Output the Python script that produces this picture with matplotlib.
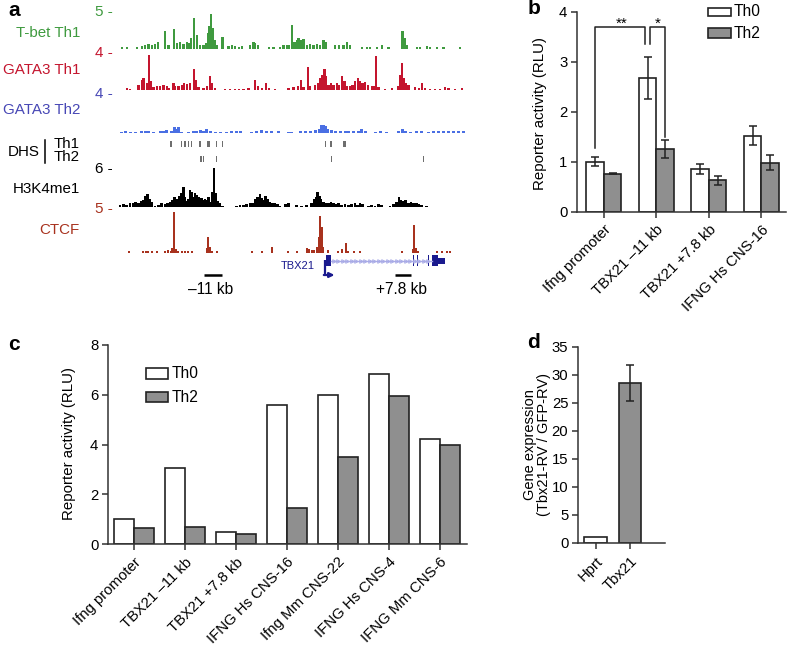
import matplotlib
matplotlib.use("Agg")
import matplotlib.pyplot as plt
from matplotlib.patches import Rectangle
import numpy as np

plt.rcParams['font.family'] = ['Liberation Sans', 'DejaVu Sans']
plt.rcParams['font.size'] = 11

# ---------------- data ----------------
# panel a: genomic tracks (kb relative to TBX21 TSS, signal relative to track max)
TBET_PEAKS = [(-20.33, 0.04), (-19.83, 0.04), (-18.83, 0.04), (-18.33, 0.08), (-18.0, 0.12), (-17.67, 0.14),
              (-17.33, 0.12), (-17.0, 0.14), (-16.73, 0.2), (-16.0, 0.52), (-15.67, 0.1), (-15.1, 0.58),
              (-14.83, 0.15), (-14.5, 0.18), (-14.17, 0.14), (-13.83, 0.2), (-13.6, 0.15), (-13.4, 0.3),
              (-13.1, 0.88), (-12.83, 0.4), (-12.5, 0.12), (-12.17, 0.1), (-11.93, 0.15), (-11.73, 0.45),
              (-11.57, 0.65), (-11.4, 1.0), (-11.23, 0.6), (-11.07, 0.25), (-10.83, 0.1), (-10.27, 0.33),
              (-9.67, 0.08), (-9.33, 0.1), (-9.0, 0.08), (-8.6, 0.06), (-8.33, 0.08), (-7.5, 0.1),
              (-7.17, 0.2), (-7.0, 0.16), (-6.73, 0.1), (-5.6, 0.04), (-5.17, 0.04), (-4.5, 0.06),
              (-4.17, 0.1), (-3.83, 0.12), (-3.6, 0.1), (-3.33, 0.67), (-3.07, 0.2), (-2.83, 0.26),
              (-2.67, 0.3), (-2.43, 0.26), (-2.17, 0.28), (-1.83, 0.12), (-1.5, 0.14), (-1.17, 0.12),
              (-0.83, 0.14), (-0.5, 0.12), (-0.17, 0.24), (0.07, 0.18), (1.0, 0.1), (1.4, 0.12),
              (1.83, 0.1), (2.17, 0.2), (2.5, 0.1), (3.67, 0.04), (4.17, 0.04), (4.5, 0.05),
              (5.17, 0.05), (5.67, 0.1), (6.33, 0.05), (7.73, 0.52), (7.93, 0.3), (8.17, 0.12),
              (9.17, 0.06), (9.5, 0.06), (10.17, 0.08), (10.5, 0.05), (11.17, 0.04), (11.83, 0.06),
              (13.5, 0.04)]

GATA3_TH1_PEAKS = [(-19.83, 0.05), (-19.5, 0.03), (-18.67, 0.14), (-18.33, 0.29), (-18.17, 0.33), (-17.83, 0.19),
                   (-17.6, 1.0), (-17.4, 0.24), (-17.17, 0.07), (-16.83, 0.1), (-16.5, 0.12), (-16.17, 0.14),
                   (-15.83, 0.1), (-15.67, 0.05), (-15.17, 0.19), (-15.0, 0.1), (-14.67, 0.1), (-14.33, 0.14),
                   (-14.1, 0.19), (-13.83, 0.16), (-13.5, 0.19), (-13.1, 0.59), (-12.93, 0.29), (-12.67, 0.07),
                   (-12.17, 0.05), (-11.83, 0.1), (-11.5, 0.4), (-11.33, 0.19), (-11.0, 0.05), (-10.0, 0.03),
                   (-9.5, 0.03), (-9.0, 0.03), (-8.6, 0.03), (-8.17, 0.03), (-7.67, 0.04), (-7.0, 0.29),
                   (-6.73, 0.1), (-6.33, 0.05), (-5.93, 0.19), (-5.6, 0.05), (-5.0, 0.03), (-3.67, 0.05),
                   (-3.17, 0.07), (-2.73, 0.1), (-2.4, 0.29), (-2.17, 0.07), (-1.73, 0.64), (-1.5, 0.1),
                   (-1.0, 0.14), (-0.73, 0.19), (-0.5, 0.33), (-0.27, 0.43), (-0.07, 0.6), (0.1, 0.38),
                   (0.33, 0.14), (0.6, 0.19), (0.83, 0.14), (1.17, 0.19), (1.4, 0.14), (1.67, 0.38),
                   (1.93, 0.24), (2.17, 0.1), (2.5, 0.1), (2.73, 0.14), (3.0, 0.24), (3.27, 0.33),
                   (3.5, 0.24), (3.73, 0.19), (4.0, 0.22), (4.27, 0.14), (4.67, 0.1), (4.93, 0.1),
                   (5.1, 0.95), (5.33, 0.07), (6.0, 0.03), (6.67, 0.05), (7.27, 0.1), (7.5, 0.43),
                   (7.67, 0.76), (7.87, 0.33), (8.07, 0.19), (8.33, 0.14), (9.0, 0.07), (9.4, 0.05),
                   (9.67, 0.19), (10.0, 0.05), (10.5, 0.03), (11.0, 0.03), (11.5, 0.03), (12.0, 0.07),
                   (12.33, 0.05), (13.0, 0.03), (13.67, 0.05)]

GATA3_TH2_PEAKS = [(-20.33, 0.02), (-20.0, 0.035), (-19.5, 0.026), (-19.0, 0.02), (-18.33, 0.035), (-18.0, 0.043),
                   (-17.67, 0.035), (-17.17, 0.026), (-16.5, 0.035), (-16.17, 0.05), (-15.83, 0.07), (-15.33, 0.05),
                   (-15.07, 0.14), (-14.83, 0.09), (-14.67, 0.16), (-14.33, 0.026), (-13.67, 0.02), (-13.17, 0.035),
                   (-12.83, 0.05), (-12.5, 0.06), (-12.17, 0.05), (-11.83, 0.09), (-11.5, 0.05), (-11.0, 0.026),
                   (-10.5, 0.02), (-9.83, 0.02), (-9.33, 0.035), (-8.83, 0.05), (-8.5, 0.035), (-7.33, 0.02),
                   (-6.83, 0.035), (-6.33, 0.07), (-5.83, 0.035), (-5.33, 0.035), (-4.67, 0.035), (-3.67, 0.026),
                   (-3.33, 0.02), (-2.5, 0.035), (-2.0, 0.05), (-1.5, 0.035), (-1.0, 0.07), (-0.6, 0.09),
                   (-0.33, 0.19), (-0.17, 0.21), (0.0, 0.17), (0.27, 0.09), (0.67, 0.07), (1.0, 0.05),
                   (1.5, 0.05), (2.0, 0.035), (2.33, 0.035), (2.83, 0.05), (3.33, 0.035), (3.67, 0.1),
                   (4.0, 0.035), (5.0, 0.026), (5.5, 0.035), (6.17, 0.026), (7.33, 0.035), (7.73, 0.1),
                   (8.0, 0.05), (8.5, 0.02), (9.17, 0.05), (9.67, 0.035), (10.33, 0.02), (10.83, 0.035),
                   (11.33, 0.035), (11.83, 0.035), (12.33, 0.05), (12.83, 0.035), (13.33, 0.035), (13.83, 0.035)]

DHS_TH1 = [-15.4, -14.33, -14.0, -13.67, -13.33, -12.5, -11.67, -10.83, -10.27, 0.07, 0.6, 1.93]
DHS_TH1_WIDE = [-15.4, -12.5, -11.67, 1.93]
DHS_TH2 = [-12.4, -12.13, -10.83, 0.67, 9.83]

H3K4ME1_PEAKS = [(-20.5, 0.06), (-20.17, 0.085), (-19.83, 0.06), (-19.5, 0.10), (-19.17, 0.12), (-18.93, 0.145),
                 (-18.67, 0.12), (-18.4, 0.17), (-18.17, 0.19), (-17.93, 0.29), (-17.77, 0.34), (-17.57, 0.205),
                 (-17.33, 0.145), (-17.0, 0.034), (-16.67, 0.06), (-16.33, 0.10), (-16.0, 0.085), (-15.73, 0.12),
                 (-15.5, 0.145), (-15.27, 0.19), (-15.07, 0.26), (-14.83, 0.205), (-14.6, 0.29), (-14.4, 0.36),
                 (-14.17, 0.51), (-14.0, 0.27), (-13.83, 0.17), (-13.67, 0.205), (-13.5, 0.44), (-13.33, 0.40),
                 (-13.17, 0.27), (-13.0, 0.36), (-12.83, 0.32), (-12.67, 0.26), (-12.5, 0.205), (-12.33, 0.23),
                 (-12.17, 0.19), (-12.0, 0.205), (-11.83, 0.19), (-11.67, 0.27), (-11.5, 0.145), (-11.27, 0.40),
                 (-11.1, 1.0), (-10.93, 0.36), (-10.73, 0.17), (-10.5, 0.10), (-10.27, 0.034),
                 (-9.33, 0.017), (-8.83, 0.034), (-8.5, 0.05), (-8.17, 0.06), (-7.83, 0.085), (-7.5, 0.12),
                 (-7.27, 0.10), (-7.0, 0.205), (-6.73, 0.26), (-6.5, 0.34), (-6.33, 0.23), (-6.1, 0.19),
                 (-5.93, 0.29), (-5.73, 0.205), (-5.5, 0.145), (-5.27, 0.10), (-5.0, 0.12), (-4.77, 0.085),
                 (-4.5, 0.034), (-3.93, 0.085), (-3.67, 0.12), (-3.33, 0.017), (-2.83, 0.05), (-2.33, 0.034),
                 (-1.83, 0.07), (-1.33, 0.10), (-1.1, 0.205), (-0.9, 0.27), (-0.73, 0.38), (-0.57, 0.29),
                 (-0.4, 0.205), (-0.17, 0.145), (0.07, 0.10), (0.33, 0.12), (0.6, 0.145), (0.83, 0.10),
                 (1.07, 0.085), (1.33, 0.10), (1.67, 0.07), (2.0, 0.085), (2.33, 0.06), (2.67, 0.085),
                 (3.0, 0.12), (3.27, 0.07), (3.5, 0.10), (3.73, 0.077), (4.33, 0.034), (4.67, 0.07),
                 (5.0, 0.034), (5.33, 0.085), (5.67, 0.05), (6.17, 0.017), (6.5, 0.034), (6.83, 0.085),
                 (7.17, 0.145), (7.4, 0.26), (7.6, 0.19), (7.83, 0.155), (8.07, 0.19), (8.33, 0.12),
                 (8.6, 0.145), (8.83, 0.12), (9.17, 0.10), (9.4, 0.085), (9.67, 0.05), (10.17, 0.034),
                 (10.67, 0.017), (11.17, 0.017), (11.67, 0.017), (13.33, 0.017), (13.83, 0.017)]

CTCF_PEAKS = [(-19.6, 0.05), (-18.17, 0.05), (-17.93, 0.05), (-17.67, 0.05), (-17.33, 0.05), (-16.83, 0.05),
              (-16.0, 0.05), (-15.67, 0.065), (-15.4, 0.05), (-15.27, 0.105), (-15.1, 1.0), (-14.93, 0.08),
              (-14.67, 0.05), (-14.33, 0.05), (-14.0, 0.05), (-13.67, 0.05), (-13.27, 0.05), (-11.83, 0.105),
              (-11.67, 0.39), (-11.5, 0.13), (-11.33, 0.05), (-10.83, 0.05), (-7.33, 0.05), (-6.33, 0.05),
              (-5.33, 0.13), (-3.67, 0.05), (-2.83, 0.05), (-1.83, 0.105), (-1.6, 0.08), (-1.33, 0.065),
              (-1.07, 0.065), (-0.83, 0.13), (-0.6, 0.39), (-0.47, 0.89), (-0.33, 0.63), (-0.17, 0.146),
              (0.33, 0.065), (1.27, 0.05), (1.67, 0.08), (2.07, 0.23), (2.33, 0.05), (2.93, 0.05),
              (3.5, 0.05), (7.73, 0.05), (8.77, 0.08), (8.9, 0.67), (9.07, 0.105), (9.27, 0.05),
              (11.17, 0.05), (11.67, 0.05), (12.17, 0.05), (12.5, 0.05)]

# TBX21 gene model: (start kb, end kb, exon kind)
TBX21_EXONS = [(0.1, 0.57, 'tall'), (8.77, 8.9, 'tall'), (9.17, 9.33, 'tall'),
               (10.27, 10.43, 'tall'), (10.7, 11.33, 'tall'), (11.33, 12.03, 'mid')]

# panel b
B_CATS = ['Ifng promoter', 'TBX21 \u201311 kb', 'TBX21 +7.8 kb', 'IFNG Hs CNS-16']
B_TH0 = [1.0, 2.68, 0.86, 1.52]
B_TH0_ERR = [0.09, 0.42, 0.10, 0.19]
B_TH2 = [0.76, 1.26, 0.63, 0.98]
B_TH2_ERR = [0.01, 0.18, 0.09, 0.15]

# panel c
C_CATS = ['Ifng promoter', 'TBX21 \u201311 kb', 'TBX21 +7.8 kb', 'IFNG Hs CNS-16',
          'Ifng Mm CNS-22', 'IFNG Hs CNS-4', 'IFNG Mm CNS-6']
C_TH0 = [1.0, 3.04, 0.47, 5.58, 5.98, 6.83, 4.24]
C_TH2 = [0.63, 0.70, 0.40, 1.46, 3.51, 5.94, 3.98]

# panel d
D_CATS = ['Hprt', 'Tbx21']
D_VALS = [1.0, 28.6]
D_ERR = [0.0, 3.2]

# ---------------- figure ----------------
W, H = 788, 646
fig = plt.figure(figsize=(W / 100, H / 100), dpi=100)


def px_axes(l, t, r, b):
    return fig.add_axes([l / W, 1 - b / H, (r - l) / W, (b - t) / H])


def ftext(x, y, s, **kw):
    return fig.text(x / W, 1 - y / H, s, **kw)


def frect(x0, y0, x1, y1, **kw):
    fig.add_artist(Rectangle((x0 / W, 1 - y1 / H), (x1 - x0) / W, (y1 - y0) / H,
                             transform=fig.transFigure, **kw))


KB_MIN, KB_MAX = -20.5, 14.0
GREEN = '#3f9a3f'
RED = '#c4152e'
BLUE_BAR = '#4a6fe3'
BLUE_TXT = '#4747b5'
CTCF_C = '#a8321e'
NAVY = '#1a1a8e'
EDGE = '#222222'
GRAY = '#8f8f8f'
TICK_FS = 10.7


def track(top, bottom, peaks, color, width=0.24):
    ax = px_axes(120, top, 465, bottom)
    pos = [p for p, _ in peaks]
    hts = [h for _, h in peaks]
    bars = ax.bar(pos, hts, width=width, color=color, linewidth=0)
    for b in bars:
        b.set_clip_on(False)
    ax.set_xlim(KB_MIN, KB_MAX)
    ax.set_ylim(0, 1)
    ax.axis('off')
    return ax


track(14.0, 48.7, TBET_PEAKS, GREEN)
track(54.7, 89.7, GATA3_TH1_PEAKS, RED)
track(94.3, 132.7, GATA3_TH2_PEAKS, BLUE_BAR, width=0.3)
track(168.3, 207.3, H3K4ME1_PEAKS, 'black', width=0.27)
track(211.7, 252.7, CTCF_PEAKS, CTCF_C, width=0.2)

# DHS
axd_hs = px_axes(120, 139, 465, 163)
axd_hs.set_xlim(KB_MIN, KB_MAX)
axd_hs.set_ylim(163, 139)
axd_hs.axis('off')
for p in DHS_TH1:
    w = 0.27 if p in DHS_TH1_WIDE else 0.14
    axd_hs.bar(p, 6.0, bottom=140.8, width=w, color='#6e6e6e', linewidth=0)
for p in DHS_TH2:
    axd_hs.bar(p, 6.0, bottom=155.5, width=0.14, color='#6e6e6e', linewidth=0)

# gene model + scale bars
axg = px_axes(120, 250, 465, 300)
axg.set_xlim(KB_MIN, KB_MAX)
axg.set_ylim(300, 250)
axg.axis('off')
intr_start, intr_end = TBX21_EXONS[0][1], TBX21_EXONS[-2][0]
axg.plot([intr_start, intr_end], [260.5, 260.5], color='#a9abe6', lw=1.0)
chev = np.arange(intr_start + 0.3, intr_end - 0.2, 0.45)
axg.plot(chev, np.full(len(chev), 260.5),
         ls='none', marker='>', ms=2.6, mfc='none', mec='#a9abe6', mew=0.7)
for s, e, kind in TBX21_EXONS:
    y0, y1 = (255.0, 266.0) if kind == 'tall' else (257.5, 263.5)
    axg.add_patch(Rectangle((s, y0), e - s, y1 - y0, color=NAVY, lw=0))
axg.plot([-0.05, -0.05], [260, 275], color=NAVY, lw=1.6, solid_capstyle='butt')
axg.annotate('', xy=(0.95, 275), xytext=(-0.12, 275),
             arrowprops=dict(arrowstyle='-|>', color=NAVY, lw=1.6, mutation_scale=7,
                             shrinkA=0, shrinkB=0))
axg.plot([-12.1, -10.3], [275, 275], color='black', lw=1.8, solid_capstyle='butt')
axg.plot([7.0, 8.6], [275, 275], color='black', lw=1.8, solid_capstyle='butt')
ftext(211, 289, '\u201311 kb', ha='center', va='center', fontsize=11.2)
ftext(402, 289, '+7.8 kb', ha='center', va='center', fontsize=11.2)
ftext(298, 266, 'TBX21', ha='center', va='center', fontsize=8, color=NAVY)

# track labels and scales
lab_kw = dict(ha='right', va='center', fontsize=10.9)
ftext(80, 33, 'T-bet Th1', color=GREEN, **lab_kw)
ftext(80, 70, 'GATA3 Th1', color=RED, **lab_kw)
ftext(80, 110, 'GATA3 Th2', color=BLUE_TXT, **lab_kw)
ftext(80, 189, 'H3K4me1', color='black', **lab_kw)
ftext(80, 230, 'CTCF', color=CTCF_C, **lab_kw)
ftext(113, 11.7, '5 -', color=GREEN, **lab_kw)
ftext(113, 53.3, '4 -', color=RED, **lab_kw)
ftext(113, 94.3, '4 -', color=BLUE_TXT, **lab_kw)
ftext(113, 169.3, '6 -', color='black', **lab_kw)
ftext(113, 209.3, '5 -', color=CTCF_C, **lab_kw)
ftext(40, 152, 'DHS', **lab_kw)
ftext(80, 144, 'Th1', **lab_kw)
ftext(80, 157, 'Th2', **lab_kw)
fig.add_artist(plt.Line2D([44.5 / W, 44.5 / W], [1 - 140 / H, 1 - 163 / H], color='black', lw=1.1,
                          transform=fig.transFigure))


def style_axes(ax):
    for s in ('top', 'right'):
        ax.spines[s].set_visible(False)
    for s in ('left', 'bottom'):
        ax.spines[s].set_linewidth(1.1)
        ax.spines[s].set_color('#333333')
    ax.tick_params(direction='out', length=4, width=1.1, color='#333333', labelsize=TICK_FS, pad=3)
    ax.tick_params(axis='x', pad=4)


bar_kw = dict(edgecolor=EDGE, linewidth=1.2)
err_kw = dict(elinewidth=1.1, capthick=1.1, ecolor=EDGE, capsize=3)

# ---- panel b ----
axb = px_axes(577, 11.7, 786, 211.7)
xb = np.arange(len(B_CATS))
bw = 0.333
axb.bar(xb - bw / 2, B_TH0, bw, color='white', yerr=B_TH0_ERR, error_kw=err_kw, **bar_kw)
axb.bar(xb + bw / 2, B_TH2, bw, color=GRAY, yerr=B_TH2_ERR, error_kw=err_kw, **bar_kw)
axb.set_xlim(-0.514, 3.47)
axb.set_ylim(0, 4)
axb.set_yticks([0, 1, 2, 3, 4])
axb.set_xticks(xb)
axb.set_xticklabels(B_CATS, rotation=45, ha='right', rotation_mode='anchor')
style_axes(axb)
axb.plot([-0.167, -0.167, 0.78, 0.78], [1.27, 3.70, 3.70, 3.35], color=EDGE, lw=1.1, clip_on=False)
axb.plot([0.876, 0.876, 1.16, 1.16], [3.35, 3.70, 3.70, 1.5], color=EDGE, lw=1.1, clip_on=False)
axb.text(0.337, 3.68, '**', ha='center', va='baseline', fontsize=11, clip_on=False)
axb.text(1.03, 3.68, '*', ha='center', va='baseline', fontsize=11, clip_on=False)
ftext(540, 114, 'Reporter activity (RLU)', rotation=90, ha='center', va='center', fontsize=10.8)
frect(708.3, 8.3, 730.7, 15.9, facecolor='white', edgecolor=EDGE, lw=1.2)
frect(708.3, 28.3, 730.7, 37.5, facecolor=GRAY, edgecolor=EDGE, lw=1.2)
ftext(734, 12, 'Th0', ha='left', va='center', fontsize=11.2)
ftext(734, 33, 'Th2', ha='left', va='center', fontsize=11.2)

# ---- panel c ----
axc = px_axes(108, 345, 467, 544)
xc = np.arange(len(C_CATS))
cw = 0.39
axc.bar(xc - cw / 2, C_TH0, cw, color='white', **bar_kw)
axc.bar(xc + cw / 2, C_TH2, cw, color=GRAY, **bar_kw)
axc.set_xlim(-0.51, 6.53)
axc.set_ylim(0, 8)
axc.set_yticks([0, 2, 4, 6, 8])
axc.set_xticks(xc)
axc.set_xticklabels(C_CATS, rotation=45, ha='right', rotation_mode='anchor')
style_axes(axc)
ftext(69, 444, 'Reporter activity (RLU)', rotation=90, ha='center', va='center', fontsize=10.8)
frect(146, 367.7, 168, 379, facecolor='white', edgecolor=EDGE, lw=1.2)
frect(146, 391.7, 168, 402, facecolor=GRAY, edgecolor=EDGE, lw=1.2)
ftext(172, 373.5, 'Th0', ha='left', va='center', fontsize=11.2)
ftext(172, 397, 'Th2', ha='left', va='center', fontsize=11.2)

# ---- panel d ----
axdd = px_axes(578, 346.7, 665, 543)
xd = np.arange(len(D_CATS))
axdd.bar(xd[0], D_VALS[0], 0.66, color='white', **bar_kw)
axdd.bar(xd[1], D_VALS[1], 0.66, color=GRAY, yerr=D_ERR[1], error_kw=err_kw, **bar_kw)
axdd.set_xlim(-0.51, 2.02)
axdd.set_ylim(0, 35)
axdd.set_yticks([0, 5, 10, 15, 20, 25, 30, 35])
axdd.set_xticks(xd)
axdd.set_xticklabels(D_CATS, rotation=45, ha='right', rotation_mode='anchor')
style_axes(axdd)
ftext(537, 445, 'Gene expression\n(Tbx21-RV / GFP-RV)', rotation=90, ha='center', va='center',
      fontsize=10.5, multialignment='center', linespacing=1.05)

# panel letters
let_kw = dict(fontsize=15, fontweight='bold', ha='center', va='center')
ftext(14, 10, 'a', **let_kw)
ftext(534, 9, 'b', **let_kw)
ftext(14, 345, 'c', **let_kw)
ftext(533, 343, 'd', **let_kw)

fig.savefig('out.png', dpi=100)
